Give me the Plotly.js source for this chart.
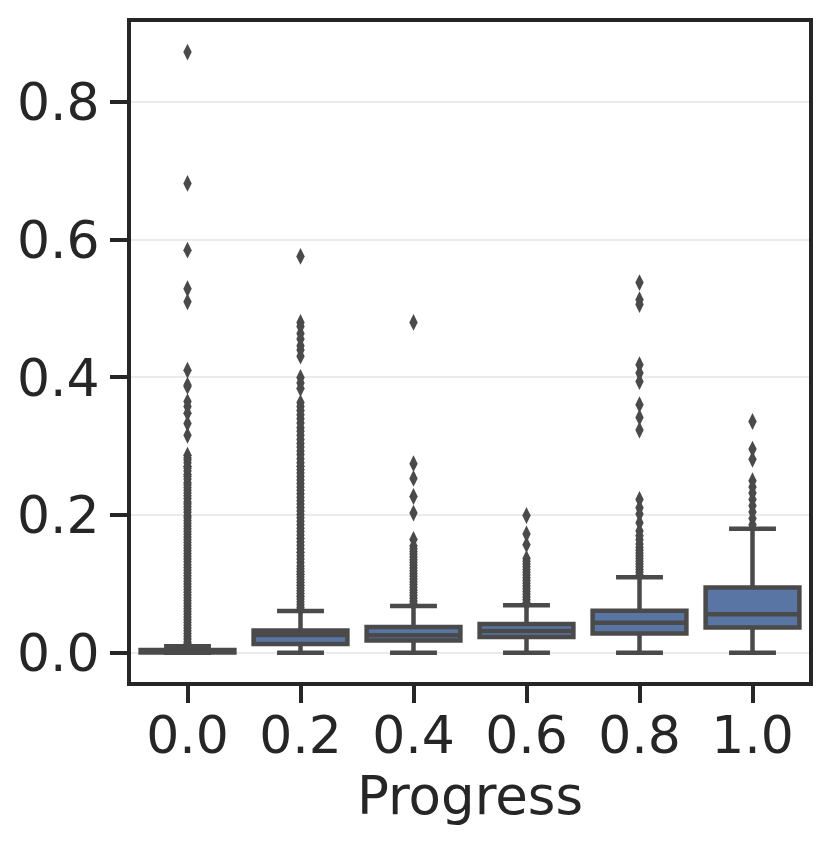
<!DOCTYPE html>
<html>
<head>
<meta charset="utf-8">
<script src="https://cdn.plot.ly/plotly-3.0.1.min.js"></script>
<style>html,body{margin:0;padding:0;background:#fff;}#chart{width:832px;height:848px;}</style>
</head>
<body>
<div id="chart"></div>
<script>
// Categories (Progress)
const categories = ["0.0", "0.2", "0.4", "0.6", "0.8", "1.0"];
const tickLabelsY = ["0.0", "0.2", "0.4", "0.6", "0.8"];
const tickValsY = [0, 0.2, 0.4, 0.6, 0.8];

// Box statistics
const q1Values = [0.0002, 0.0127, 0.0176, 0.0228, 0.0278, 0.0365];
const medianValues = [0.0015, 0.0257, 0.0255, 0.0315, 0.0436, 0.0560];
const q3Values = [0.0040, 0.0324, 0.0373, 0.0417, 0.0610, 0.0949];
const lowerFences = [0.0, 0.0, 0.0, 0.0, 0.0, 0.0];
const upperFences = [0.0095, 0.0606, 0.0680, 0.0690, 0.1096, 0.1800];

// Outliers per category
const outliers00 = [0.873, 0.682, 0.585, 0.529, 0.510, 0.4105, 0.389, 0.387, 0.365, 0.358, 0.348, 0.333, 0.316,
  0.287, 0.283, 0.280, 0.276, 0.271, 0.268, 0.264, 0.259, 0.256, 0.252, 0.247, 0.244, 0.240, 0.236, 0.232,
  0.228, 0.224, 0.219, 0.216, 0.212, 0.208, 0.204, 0.199, 0.196, 0.192, 0.188, 0.184, 0.180, 0.176, 0.172,
  0.168, 0.164, 0.160, 0.156, 0.152, 0.148, 0.144, 0.140, 0.136, 0.132, 0.128, 0.124, 0.120, 0.116, 0.112,
  0.108, 0.104, 0.100, 0.096, 0.092, 0.088, 0.084, 0.080, 0.076, 0.072, 0.068, 0.064, 0.060, 0.056, 0.052,
  0.048, 0.044, 0.040, 0.036, 0.032, 0.028, 0.024, 0.020, 0.016, 0.013, 0.011];
const outliers02 = [0.576, 0.480, 0.474, 0.464, 0.456, 0.446, 0.440, 0.431, 0.400, 0.392, 0.384, 0.3635,
  0.358, 0.352, 0.346, 0.340, 0.334, 0.327, 0.322, 0.316, 0.310, 0.304, 0.299, 0.293, 0.288, 0.282, 0.276,
  0.271, 0.266, 0.261, 0.256, 0.251, 0.246, 0.241, 0.236, 0.231, 0.226, 0.221, 0.216, 0.211, 0.206, 0.201,
  0.196, 0.191, 0.186, 0.181, 0.176, 0.171, 0.166, 0.161, 0.156, 0.151, 0.146, 0.141, 0.136, 0.131, 0.126,
  0.122, 0.118, 0.114, 0.110, 0.106, 0.102, 0.098, 0.094, 0.090, 0.086, 0.082, 0.078, 0.074, 0.070, 0.066, 0.063];
const outliers04 = [0.480, 0.2747, 0.2533, 0.227, 0.203, 0.1645, 0.155, 0.151, 0.147, 0.143, 0.139, 0.135,
  0.131, 0.127, 0.123, 0.119, 0.115, 0.111, 0.107, 0.103, 0.099, 0.095, 0.091, 0.087, 0.083, 0.079, 0.075, 0.071];
const outliers06 = [0.1994, 0.1725, 0.157, 0.137, 0.133, 0.129, 0.125, 0.121, 0.117, 0.113, 0.109, 0.105,
  0.101, 0.097, 0.093, 0.089, 0.085, 0.081, 0.077, 0.073, 0.071];
const outliers08 = [0.538, 0.513, 0.506, 0.4186, 0.4065, 0.394, 0.3605, 0.342, 0.3237, 0.2227, 0.2105, 0.2016,
  0.189, 0.177, 0.170, 0.164, 0.158, 0.153, 0.149, 0.145, 0.141, 0.137, 0.133, 0.129, 0.125, 0.121, 0.117, 0.113];
const outliers10 = [0.336, 0.296, 0.281, 0.250, 0.241, 0.232, 0.2227, 0.2135, 0.2045, 0.195, 0.186];
const outlierLists = [outliers00, outliers02, outliers04, outliers06, outliers08, outliers10];

const boxFill = "#5875a4";
const lineGrey = "#4a4a4a";
const axisColor = "#262626";
const fontFamily = "DejaVu Sans, Liberation Sans, sans-serif";

const traces = [{
  type: "box",
  x: categories,
  q1: q1Values,
  median: medianValues,
  q3: q3Values,
  lowerfence: lowerFences,
  upperfence: upperFences,
  boxpoints: false,
  fillcolor: boxFill,
  line: {color: lineGrey, width: 4.5},
  width: 0.83,
  whiskerwidth: 0.5,
  showlegend: false,
  hoverinfo: "skip"
}];

outlierLists.forEach((vals, i) => {
  traces.push({
    type: "scatter",
    mode: "markers",
    x: vals.map(() => categories[i]),
    y: vals,
    marker: {symbol: "diamond-tall", size: 12, color: lineGrey, line: {width: 0}},
    showlegend: false,
    hoverinfo: "skip",
    cliponaxis: false
  });
});

const layout = {
  width: 832,
  height: 848,
  margin: {l: 130.5, r: 22.5, t: 22, b: 166, pad: 0},
  paper_bgcolor: "#ffffff",
  plot_bgcolor: "#ffffff",
  font: {family: fontFamily, color: axisColor, size: 52},
  showlegend: false,
  boxmode: "overlay",
  xaxis: {
    type: "category",
    categoryorder: "array",
    categoryarray: categories,
    range: [-0.5, 5.5],
    showgrid: false,
    zeroline: false,
    showline: true,
    mirror: true,
    linecolor: axisColor,
    linewidth: 4,
    ticks: "outside",
    ticklen: 17,
    tickwidth: 4,
    tickcolor: axisColor,
    ticklabelstandoff: -12,
    tickfont: {size: 52, family: fontFamily, color: axisColor},
    title: {text: "Progress", font: {size: 53, family: fontFamily, color: axisColor}, standoff: 4}
  },
  yaxis: {
    range: [-0.0426, 0.9167],
    tickvals: tickValsY,
    ticktext: tickLabelsY,
    showgrid: true,
    gridcolor: "#ebebeb",
    gridwidth: 2,
    zeroline: false,
    showline: true,
    mirror: true,
    linecolor: axisColor,
    linewidth: 4,
    ticks: "outside",
    ticklen: 17,
    tickwidth: 4,
    tickcolor: axisColor,
    tickfont: {size: 52, family: fontFamily, color: axisColor}
  }
};

Plotly.newPlot("chart", traces, layout, {staticPlot: true, displayModeBar: false});
</script>
</body>
</html>
